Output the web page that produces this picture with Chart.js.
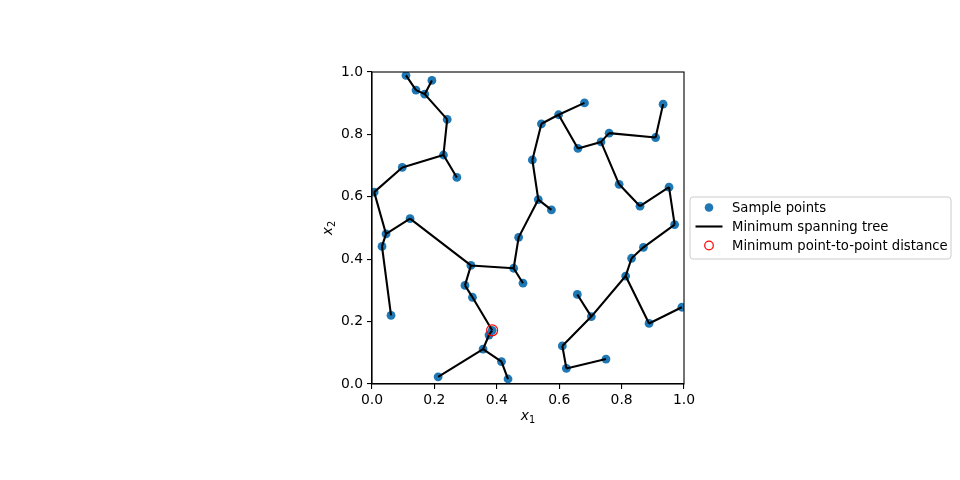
<!DOCTYPE html>
<html lang="en">
<head>
<meta charset="UTF-8">
<title>Minimum spanning tree</title>
<script src="https://cdn.jsdelivr.net/npm/chart.js@4/dist/chart.umd.min.js"></script>
<style>
  html, body { margin: 0; padding: 0; background: #fff; }
  #wrap { width: 960px; height: 480px; position: relative; }
</style>
</head>
<body>
<div id="wrap"><canvas id="chart" width="960" height="480"></canvas></div>
<script>
// sample points
const ptX = [0.109, 0.192, 0.141, 0.169, 0.241, 0.229, 0.272, 0.097, 0.007, 0.122,
             0.045, 0.032, 0.061, 0.317, 0.454, 0.484, 0.470, 0.298, 0.322, 0.385,
             0.375, 0.356, 0.415, 0.436, 0.212, 0.681, 0.598, 0.543, 0.514, 0.533,
             0.575, 0.660, 0.734, 0.760, 0.909, 0.933, 0.792, 0.859, 0.952, 0.970,
             0.870, 0.832, 0.813, 0.888, 0.993, 0.703, 0.658, 0.610, 0.623, 0.750];
const ptY = [0.989, 0.973, 0.942, 0.929, 0.848, 0.734, 0.662, 0.694, 0.615, 0.530,
             0.481, 0.441, 0.220, 0.380, 0.371, 0.323, 0.470, 0.316, 0.278, 0.172,
             0.157, 0.112, 0.072, 0.016, 0.023, 0.901, 0.863, 0.834, 0.718, 0.591,
             0.558, 0.755, 0.776, 0.804, 0.790, 0.897, 0.640, 0.570, 0.631, 0.511,
             0.438, 0.403, 0.346, 0.194, 0.246, 0.216, 0.287, 0.122, 0.050, 0.080];
// spanning tree edges (indices into the point arrays)
const edgeFrom = [0, 2, 1, 3, 4, 5, 5, 7, 8, 9, 9, 10, 11, 13, 14, 14, 13, 17, 18, 19,
                  20, 21, 21, 22, 16, 29, 29, 28, 27, 26, 26, 31, 32, 33, 34, 32, 36, 37, 38,
                  39, 40, 41, 42, 43, 42, 45, 45, 47, 48];
const edgeTo   = [2, 3, 3, 4, 5, 6, 7, 8, 10, 10, 13, 11, 12, 14, 15, 16, 17, 18, 19, 20,
                  21, 24, 22, 23, 29, 30, 28, 27, 26, 25, 31, 32, 33, 34, 35, 36, 37, 38, 39,
                  40, 41, 42, 43, 44, 45, 46, 47, 48, 49];
// closest pair marker
const minX = [0.385];
const minY = [0.172];
const ticks = [0, 0.2, 0.4, 0.6, 0.8, 1.0];

const FONT = '"DejaVu Sans", sans-serif';
const FS = 13.9;
const LEG_FS = 13.2;

const points = ptX.map((x, i) => ({ x, y: ptY[i] }));
const treeLine = [];
edgeFrom.forEach((a, i) => {
  const b = edgeTo[i];
  treeLine.push({ x: ptX[a], y: ptY[a] }, { x: ptX[b], y: ptY[b] }, { x: null, y: null });
});
const minPts = minX.map((x, i) => ({ x, y: minY[i] }));

const frameAndLabels = {
  id: 'frameAndLabels',
  afterDraw(chart) {
    const { ctx, chartArea: a } = chart;
    ctx.save();
    ctx.strokeStyle = '#000';
    ctx.lineWidth = 1.1;
    ctx.strokeRect(a.left, a.top, a.right - a.left, a.bottom - a.top);

    // axis titles: italic x with subscript
    const sub = (label, subTxt, cx, cy) => {
      ctx.font = 'italic ' + FS + 'px ' + FONT;
      const w1 = ctx.measureText(label).width;
      ctx.font = (FS * 0.7) + 'px ' + FONT;
      const w2 = ctx.measureText(subTxt).width;
      const x0 = cx - (w1 + w2) / 2;
      ctx.fillStyle = '#000';
      ctx.textBaseline = 'alphabetic';
      ctx.textAlign = 'left';
      ctx.font = 'italic ' + FS + 'px ' + FONT;
      ctx.fillText(label, x0, cy);
      ctx.font = (FS * 0.7) + 'px ' + FONT;
      ctx.fillText(subTxt, x0 + w1, cy + 3);
    };
    sub('x', '1', (a.left + a.right) / 2, 420);
    ctx.save();
    ctx.translate(332, (a.top + a.bottom) / 2);
    ctx.rotate(-Math.PI / 2);
    sub('x', '2', 0, 0);
    ctx.restore();

    // legend
    const bx = 690, by = 197, bw = 261, bh = 62, r = 3;
    ctx.beginPath();
    ctx.roundRect(bx, by, bw, bh, r);
    ctx.fillStyle = 'rgba(255,255,255,0.8)';
    ctx.fill();
    ctx.strokeStyle = '#cccccc';
    ctx.lineWidth = 1;
    ctx.stroke();

    const ds = chart.data.datasets;
    const rows = [207.5, 226.5, 245.5];
    const mx = 709, tx = 732;
    ctx.font = LEG_FS + 'px ' + FONT;
    ctx.textBaseline = 'middle';
    ctx.textAlign = 'left';
    // sample points
    ctx.beginPath();
    ctx.arc(mx, rows[0], 4.3, 0, Math.PI * 2);
    ctx.fillStyle = ds[2].backgroundColor;
    ctx.fill();
    // tree line
    ctx.beginPath();
    ctx.moveTo(695.5, rows[1]);
    ctx.lineTo(722.5, rows[1]);
    ctx.strokeStyle = ds[1].borderColor;
    ctx.lineWidth = 2.1;
    ctx.stroke();
    // min distance circle
    ctx.beginPath();
    ctx.arc(mx, rows[2], 4.3, 0, Math.PI * 2);
    ctx.strokeStyle = ds[0].borderColor;
    ctx.lineWidth = 1.2;
    ctx.stroke();
    ctx.fillStyle = '#000';
    [ds[2].label, ds[1].label, ds[0].label].forEach((t, i) => ctx.fillText(t, tx, rows[i] + 1));
    ctx.restore();
  }
};

const axisCommon = {
  type: 'linear',
  min: 0, max: 1,
  grid: { drawOnChartArea: false, drawTicks: true, tickLength: 5, color: '#000', lineWidth: 1.1 },
  border: { display: true, color: '#000', width: 1.1 },
  title: { display: false },
};

new Chart(document.getElementById('chart'), {
  type: 'scatter',
  data: {
    datasets: [
      { label: 'Minimum point-to-point distance', data: minPts, order: 0,
        pointRadius: 5.5, pointHoverRadius: 5.5, pointBorderWidth: 1.2,
        backgroundColor: 'rgba(0,0,0,0)', borderColor: '#ff0000', showLine: false },
      { label: 'Minimum spanning tree', data: treeLine, order: 1, showLine: true, spanGaps: false,
        borderColor: '#000000', borderWidth: 2.1, pointRadius: 0, pointHoverRadius: 0, fill: false },
      { label: 'Sample points', data: points, order: 2, pointRadius: 4.4, pointHoverRadius: 4.4,
        pointBorderWidth: 0, backgroundColor: '#1f77b4', borderColor: '#1f77b4', showLine: false },
    ],
  },
  options: {
    responsive: false,
    animation: false,
    events: [],
    layout: { padding: { left: 332, right: 276, top: 72, bottom: 66 } },
    scales: {
      x: { ...axisCommon,
        afterBuildTicks: (s) => { s.ticks = ticks.map(v => ({ value: v })); },
        afterFit: (s) => { s.height = 30; },
        ticks: { color: '#000', padding: 3, font: { family: FONT, size: FS }, maxRotation: 0,
          callback: (v) => Number(v).toFixed(1) } },
      y: { ...axisCommon,
        afterBuildTicks: (s) => { s.ticks = ticks.map(v => ({ value: v })); },
        afterFit: (s) => { s.width = 40; },
        ticks: { color: '#000', padding: 4, font: { family: FONT, size: FS },
          callback: (v) => Number(v).toFixed(1) } },
    },
    plugins: { legend: { display: false }, tooltip: { enabled: false } },
  },
  plugins: [frameAndLabels],
});
</script>
</body>
</html>
